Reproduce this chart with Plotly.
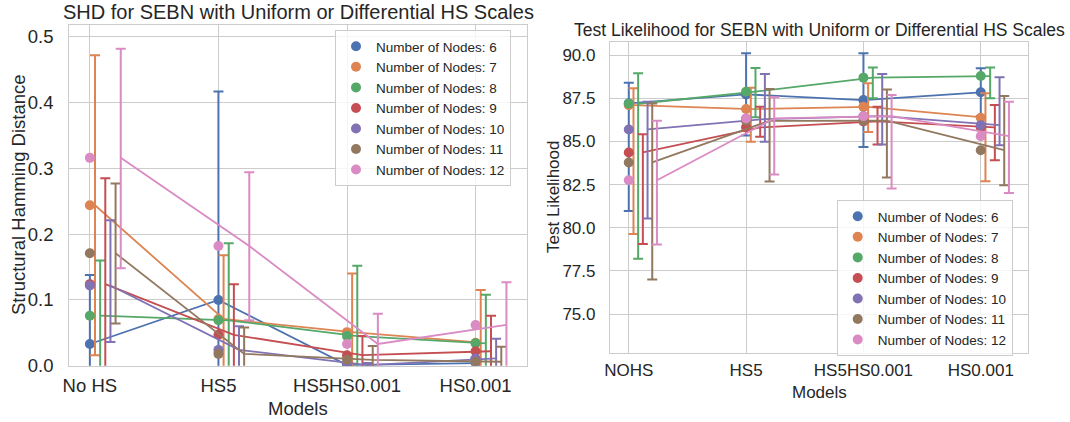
import plotly.graph_objects as go

# ---------------- data ----------------
categories_shd = ["No HS", "HS5", "HS5HS0.001", "HS0.001"]
categories_ll = ["NOHS", "HS5", "HS5HS0.001", "HS0.001"]
node_counts = [6, 7, 8, 9, 10, 11, 12]

# Structural Hamming Distance: mean, lower and upper bound of error bar (rows = node counts)
shd_mean = [
    [0.033, 0.100, 0.001, 0.004],
    [0.244, 0.071, 0.051, 0.035],
    [0.076, 0.069, 0.045, 0.034],
    [0.124, 0.047, 0.016, 0.022],
    [0.122, 0.024, 0.001, 0.011],
    [0.171, 0.018, 0.009, 0.006],
    [0.316, 0.182, 0.033, 0.062],
]
shd_lo = [
    [-0.070, -0.220, -0.002, -0.004],
    [0.016, -0.026, -0.037, -0.045],
    [-0.009, -0.048, -0.062, -0.040],
    [-0.037, -0.030, -0.013, -0.032],
    [0.036, -0.012, -0.002, -0.019],
    [0.064, -0.022, -0.012, -0.017],
    [0.148, 0.069, -0.014, -0.004],
]
shd_hi = [
    [0.138, 0.417, 0.004, 0.012],
    [0.472, 0.168, 0.140, 0.115],
    [0.160, 0.186, 0.152, 0.108],
    [0.285, 0.124, 0.045, 0.076],
    [0.221, 0.060, 0.004, 0.041],
    [0.277, 0.058, 0.030, 0.029],
    [0.482, 0.294, 0.079, 0.127],
]

# Test likelihood: mean, lower and upper bound of error bar
ll_mean = [
    [87.20, 87.72, 87.39, 87.84],
    [87.10, 86.87, 87.00, 86.37],
    [87.18, 87.88, 88.69, 88.78],
    [84.36, 85.81, 86.16, 85.81],
    [85.69, 86.29, 86.46, 85.94],
    [83.78, 86.19, 86.20, 84.49],
    [82.75, 86.33, 86.46, 85.30],
]
ll_lo = [
    [80.97, 85.34, 84.68, 86.45],
    [79.64, 84.98, 85.55, 82.70],
    [78.21, 86.40, 87.49, 87.49],
    [79.06, 85.27, 84.82, 83.91],
    [80.53, 84.98, 84.82, 84.78],
    [77.01, 82.68, 82.91, 82.46],
    [79.03, 83.08, 82.27, 82.02],
]
ll_hi = [
    [88.40, 90.10, 90.10, 89.23],
    [88.07, 88.11, 88.36, 87.78],
    [88.94, 89.25, 89.27, 89.27],
    [85.42, 87.00, 87.00, 87.10],
    [87.30, 88.90, 88.90, 88.71],
    [87.20, 88.03, 88.01, 87.62],
    [86.19, 87.55, 87.68, 87.30],
]

shd_yticks = [0.0, 0.1, 0.2, 0.3, 0.4, 0.5]
ll_yticks = [75.0, 77.5, 80.0, 82.5, 85.0, 87.5, 90.0]

# ---------------- styling ----------------
colors = ["#4c72b0", "#dd8452", "#55a868", "#c44e52", "#8172b3", "#937860", "#da8bc3"]
FONT = "Liberation Sans, Arial, sans-serif"
TXT = "#262626"
GRID = "#cccccc"
DODGE = 0.04

fig = go.Figure()


def add_panel(xa, ya, legend, means, los, his):
    for k, n in enumerate(node_counts):
        c = colors[k]
        m = means[k]
        xs = [i + k * DODGE for i in range(len(m))]
        fig.add_trace(go.Scatter(
            x=xs, y=m, mode="lines",
            line=dict(color=c, width=1.8),
            error_y=dict(type="data", symmetric=False,
                         array=[h - v for h, v in zip(his[k], m)],
                         arrayminus=[v - l for v, l in zip(m, los[k])],
                         color=c, thickness=2, width=5),
            xaxis=xa, yaxis=ya, showlegend=False, hoverinfo="skip"))
        fig.add_trace(go.Scatter(
            x=list(range(len(m))), y=m, mode="markers",
            marker=dict(color=c, size=10),
            name=f"Number of Nodes: {n}",
            xaxis=xa, yaxis=ya, legend=legend))


add_panel("x", "y", "legend", shd_mean, shd_lo, shd_hi)
add_panel("x2", "y2", "legend2", ll_mean, ll_lo, ll_hi)

W, H = 1070, 422


def px(x):
    return x / W


def py(y):
    return 1 - y / H


axis_common = dict(showline=True, mirror=True, linecolor=GRID, linewidth=1.25,
                   showgrid=True, gridcolor=GRID, gridwidth=1, zeroline=False,
                   ticks="outside", tickcolor="rgba(0,0,0,0)", automargin=False)

fig.update_layout(
    width=W, height=H,
    margin=dict(l=0, r=0, t=0, b=0, autoexpand=False),
    paper_bgcolor="white", plot_bgcolor="white",
    font=dict(family=FONT, color=TXT),
    xaxis=dict(domain=[px(69.3), px(527)], range=[-0.16, 3.40], anchor="y",
               tickvals=[0, 1, 2, 3], ticktext=categories_shd, ticklen=3,
               tickfont=dict(size=18.5), **axis_common),
    yaxis=dict(domain=[py(365.7), py(25)], range=[0, 0.518], anchor="x",
               tickvals=shd_yticks, ticktext=[f"{v:.1f}" for v in shd_yticks], ticklen=11,
               tickfont=dict(size=18.5), **axis_common),
    xaxis2=dict(domain=[px(610), px(1027.7)], range=[-0.16, 3.40], anchor="y2",
                tickvals=[0, 1, 2, 3], ticktext=categories_ll, ticklen=2,
                tickfont=dict(size=17), **axis_common),
    yaxis2=dict(domain=[py(352.7), py(41.7)], range=[72.77, 90.77], anchor="x2",
                tickvals=ll_yticks, ticktext=[f"{v:.1f}" for v in ll_yticks], ticklen=10,
                tickfont=dict(size=17), **axis_common),
    legend=dict(x=px(335), y=py(30), xanchor="left", yanchor="top",
                bgcolor="rgba(255,255,255,0.8)", bordercolor=GRID, borderwidth=1,
                font=dict(size=13.5, color=TXT)),
    legend2=dict(x=px(836.7), y=py(200), xanchor="left", yanchor="top",
                 bgcolor="rgba(255,255,255,0.8)", bordercolor=GRID, borderwidth=1,
                 font=dict(size=13.5, color=TXT)),
    annotations=[
        dict(text="SHD for SEBN with Uniform or Differential HS Scales", x=px(298), y=py(12),
             xref="paper", yref="paper", xanchor="center", yanchor="middle",
             showarrow=False, font=dict(size=20, color=TXT)),
        dict(text="Test Likelihood for SEBN with Uniform or Differential HS Scales", x=px(819), y=py(30),
             xref="paper", yref="paper", xanchor="center", yanchor="middle",
             showarrow=False, font=dict(size=17.5, color=TXT)),
        dict(text="Structural Hamming Distance", x=px(18), y=py(195), textangle=-90,
             xref="paper", yref="paper", xanchor="center", yanchor="middle",
             showarrow=False, font=dict(size=18.5, color=TXT)),
        dict(text="Test Likelihood", x=px(553), y=py(197), textangle=-90,
             xref="paper", yref="paper", xanchor="center", yanchor="middle",
             showarrow=False, font=dict(size=17, color=TXT)),
        dict(text="Models", x=px(298), y=py(408),
             xref="paper", yref="paper", xanchor="center", yanchor="middle",
             showarrow=False, font=dict(size=18.5, color=TXT)),
        dict(text="Models", x=px(819), y=py(392),
             xref="paper", yref="paper", xanchor="center", yanchor="middle",
             showarrow=False, font=dict(size=17, color=TXT)),
    ],
)

fig.write_html("out.html", config={"displayModeBar": False},
               post_script="document.body.style.margin='0';")
